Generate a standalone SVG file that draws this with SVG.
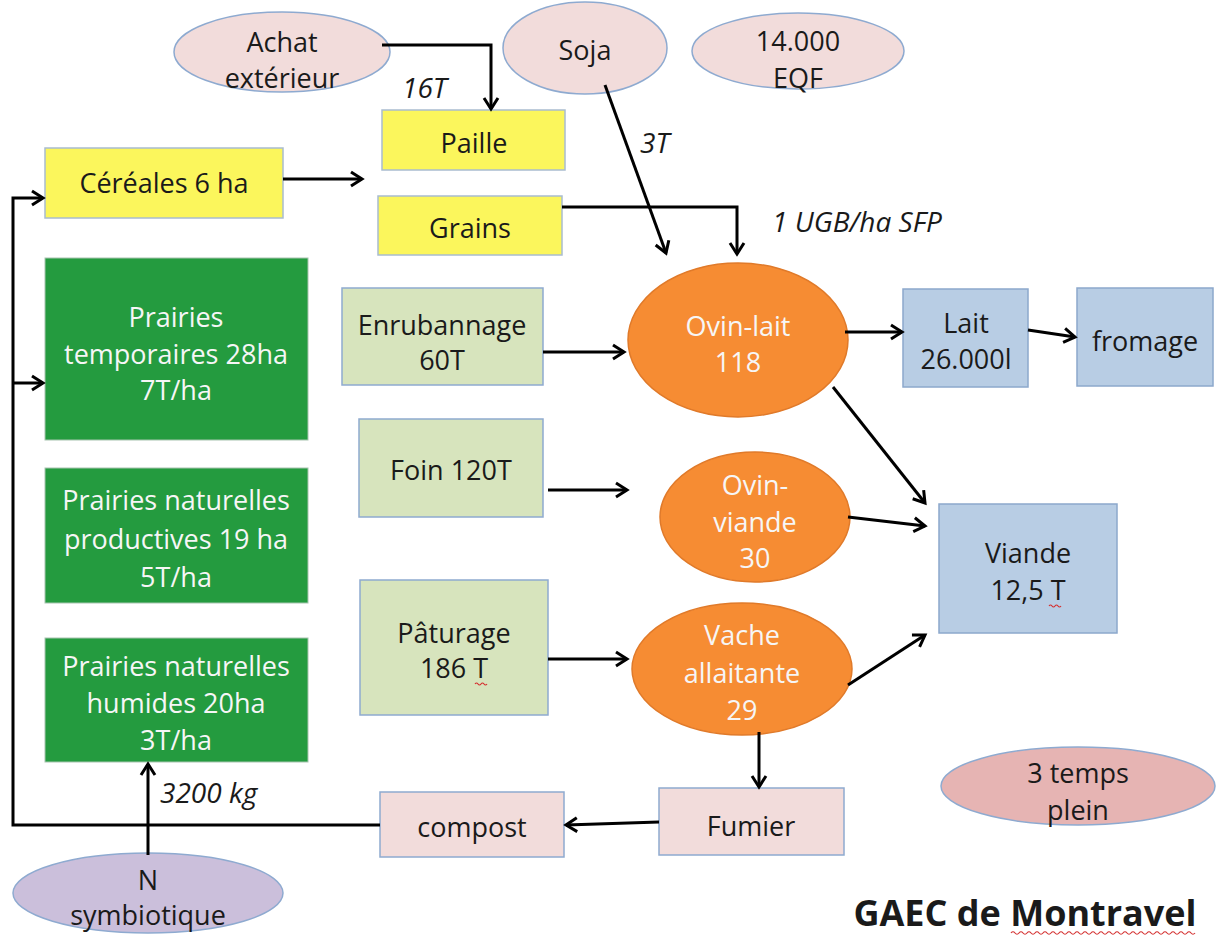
<svg xmlns="http://www.w3.org/2000/svg" width="1216" height="937" viewBox="0 0 1216 937">
<style>
text{font-family:"Open Sans","Liberation Sans",sans-serif;font-size:27px;text-anchor:middle;fill:#1a1a1a}
.w{fill:#f6f6f6}
.i{font-style:italic;font-size:28px;text-anchor:start}
.t{font-weight:bold;font-size:36px}
.pink{fill:#f2dcdb;stroke:#8eaad0;stroke-width:1.5}
.pink2{fill:#e6b4b3;stroke:#8eaad0;stroke-width:1.5}
.lav{fill:#cbbfdb;stroke:#8eaad0;stroke-width:1.5}
.yel{fill:#fbf65c;stroke:#a9bccf;stroke-width:1.5}
.grn{fill:#249b3f;stroke:#a7c4b0;stroke-width:1}
.lg{fill:#d7e4bd;stroke:#8eaad0;stroke-width:1.5}
.org{fill:#f68c33;stroke:#e07a2a;stroke-width:1.5}
.blu{fill:#b8cde4;stroke:#8ca8cc;stroke-width:1.5}
.c{fill:none;stroke:#000;stroke-width:3}
.wave{fill:none;stroke:#d43030;stroke-width:1.2}
</style>
<defs>
<marker id="a" markerUnits="userSpaceOnUse" markerWidth="18" markerHeight="18" viewBox="0 0 18 18" refX="15" refY="9" orient="auto">
<path d="M4,2 L15,9 L4,16" fill="none" stroke="#000" stroke-width="3"/>
</marker>
</defs>
<rect width="1216" height="937" fill="#fff"/>

<g id="achat"><ellipse class="pink" cx="282" cy="52" rx="108" ry="40"/><text x="282" y="52">Achat</text><text x="282" y="88">extérieur</text></g>
<g id="soja"><ellipse class="pink" cx="585" cy="48" rx="82" ry="46"/><text x="585" y="60">Soja</text></g>
<g id="eqf"><ellipse class="pink" cx="798" cy="51" rx="106" ry="38"/><text x="798" y="51">14.000</text><text x="798" y="88">EQF</text></g>
<g id="paille"><rect class="yel" x="382" y="110" width="183" height="60"/><text x="474" y="153">Paille</text></g>
<g id="grains"><rect class="yel" x="378" y="196" width="184" height="59"/><text x="470" y="238">Grains</text></g>
<g id="cereales"><rect class="yel" x="45" y="148" width="238" height="70"/><text x="164" y="193">Céréales 6 ha</text></g>
<g id="ptemp"><rect class="grn" x="45" y="258" width="263" height="182"/><text class="w" x="176" y="327">Prairies</text><text class="w" x="176" y="364">temporaires 28ha</text><text class="w" x="176" y="400">7T/ha</text></g>
<g id="pprod"><rect class="grn" x="45" y="468" width="263" height="135"/><text class="w" x="176" y="510">Prairies naturelles</text><text class="w" x="176" y="549">productives 19 ha</text><text class="w" x="176" y="587">5T/ha</text></g>
<g id="phum"><rect class="grn" x="45" y="638" width="263" height="124"/><text class="w" x="176" y="676">Prairies naturelles</text><text class="w" x="176" y="713">humides 20ha</text><text class="w" x="176" y="750">3T/ha</text></g>
<g id="enrub"><rect class="lg" x="342" y="288" width="201" height="97"/><text x="442" y="335">Enrubannage</text><text x="442" y="370">60T</text></g>
<g id="foin"><rect class="lg" x="359" y="419" width="184" height="98"/><text x="451" y="480">Foin 120T</text></g>
<g id="paturage"><rect class="lg" x="360" y="580" width="188" height="135"/><text x="454" y="643">Pâturage</text><text x="454" y="678">186 T</text><path class="wave" d="M475,684 q1.5,-2 3,0 t3,0 t3,0 t3,0"/></g>
<g id="ovinlait"><ellipse class="org" cx="738" cy="340" rx="110" ry="77"/><text class="w" x="738" y="336">Ovin-lait</text><text class="w" x="738" y="372">118</text></g>
<g id="ovinviande"><ellipse class="org" cx="755" cy="517" rx="95" ry="65"/><text class="w" x="755" y="495">Ovin-</text><text class="w" x="755" y="532">viande</text><text class="w" x="755" y="568">30</text></g>
<g id="vache"><ellipse class="org" cx="742" cy="669" rx="110" ry="66"/><text class="w" x="742" y="645">Vache</text><text class="w" x="742" y="683">allaitante</text><text class="w" x="742" y="720">29</text></g>
<g id="lait"><rect class="blu" x="903" y="289" width="125" height="98"/><text x="966" y="333">Lait</text><text x="966" y="369">26.000l</text></g>
<g id="fromage"><rect class="blu" x="1077" y="288" width="136" height="98"/><text x="1145" y="351">fromage</text></g>
<g id="viande"><rect class="blu" x="939" y="504" width="178" height="129"/><text x="1028" y="563">Viande</text><text x="1028" y="600">12,5 T</text><path class="wave" d="M1049,606 q1.5,-2 3,0 t3,0 t3,0 t3,0"/></g>
<g id="compost"><rect class="pink" x="380" y="792" width="184" height="65"/><text x="472" y="837">compost</text></g>
<g id="fumier"><rect class="pink" x="659" y="788" width="185" height="67"/><text x="751" y="836">Fumier</text></g>
<g id="temps"><ellipse class="pink2" cx="1078" cy="786" rx="137" ry="39"/><text x="1078" y="783">3 temps</text><text x="1078" y="820">plein</text></g>
<g id="nsym"><ellipse class="lav" cx="148" cy="893" rx="135" ry="40"/><text x="148" y="890">N</text><text x="148" y="925">symbiotique</text></g>

<g id="labels">
<text class="i" x="402" y="98">16T</text>
<text class="i" x="640" y="153">3T</text>
<text class="i" x="772" y="232">1 UGB/ha SFP</text>
<text class="i" x="160" y="803">3200 kg</text>
</g>
<g id="title"><text class="t" x="1025" y="926">GAEC de Montravel</text><path class="wave" d="M1011,933 q2,-2.5 4,0 t4,0 t4,0 t4,0 t4,0 t4,0 t4,0 t4,0 t4,0 t4,0 t4,0 t4,0 t4,0 t4,0 t4,0 t4,0 t4,0 t4,0 t4,0 t4,0 t4,0 t4,0 t4,0 t4,0 t4,0 t4,0 t4,0 t4,0 t4,0 t4,0 t4,0 t4,0 t4,0 t4,0 t4,0 t4,0 t4,0 t4,0 t4,0 t4,0 t4,0 t4,0 t4,0 t4,0 t4,0 t4,0"/></g>

<g id="connectors">
<path class="c" d="M382,45 H491 V109" marker-end="url(#a)"/>
<path class="c" d="M283,179 H362" marker-end="url(#a)"/>
<path class="c" d="M605,85 L666,253" marker-end="url(#a)"/>
<path class="c" d="M562,207 H737 V254" marker-end="url(#a)"/>
<path class="c" d="M543,352 H624" marker-end="url(#a)"/>
<path class="c" d="M548,490 H627" marker-end="url(#a)"/>
<path class="c" d="M548,659 H627" marker-end="url(#a)"/>
<path class="c" d="M845,332 H902" marker-end="url(#a)"/>
<path class="c" d="M1028,330 L1075,337" marker-end="url(#a)"/>
<path class="c" d="M833,387 L925,503" marker-end="url(#a)"/>
<path class="c" d="M848,517 L925,526" marker-end="url(#a)"/>
<path class="c" d="M848,685 L925,635" marker-end="url(#a)"/>
<path class="c" d="M759,732 V787" marker-end="url(#a)"/>
<path class="c" d="M659,822 L566,825" marker-end="url(#a)"/>
<path class="c" d="M380,825 H13 V198 H43" marker-end="url(#a)"/>
<path class="c" d="M13,383 H43" marker-end="url(#a)"/>
<path class="c" d="M148,855 V764" marker-end="url(#a)"/>
</g>
</svg>
